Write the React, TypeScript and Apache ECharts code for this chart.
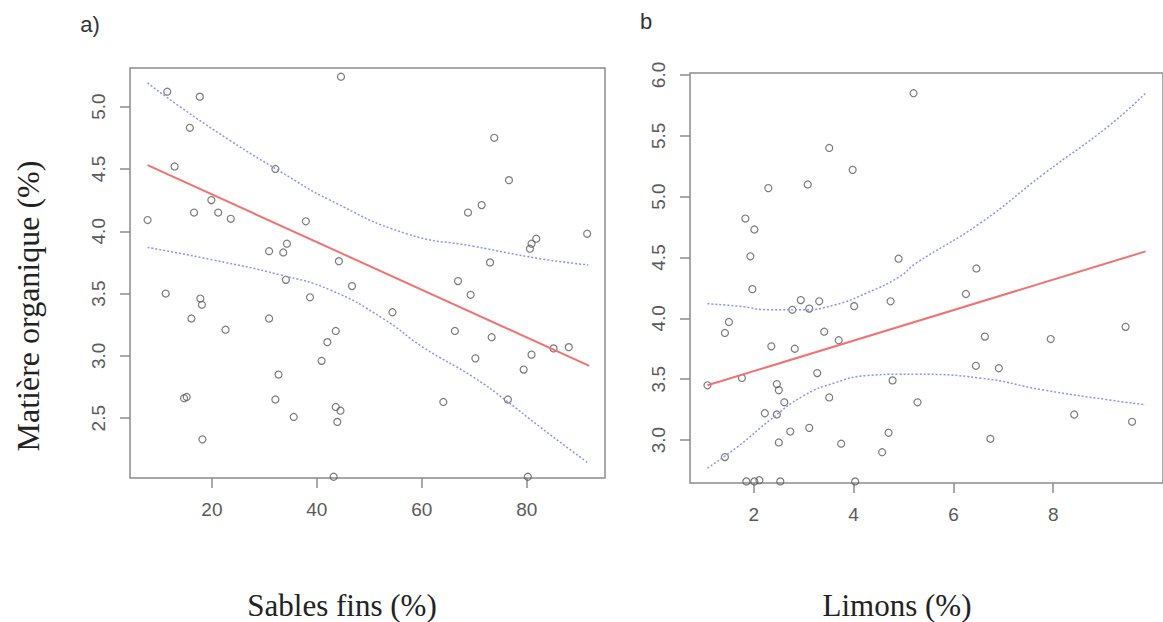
import React, { useEffect, useRef } from "react";
import * as echarts from "echarts";

// Panel a) : Sables fins (%) vs Matière organique (%)
const sablesX = [
  11.5, 17.7, 44.6, 15.8, 12.9, 32.1, 19.9, 16.6, 21.2, 23.6, 7.75, 37.9, 34.3, 30.9, 33.6, 44.2,
  11.2, 17.8, 18.1, 16.1, 22.6, 30.9, 34.1, 38.7, 46.7, 43.6, 42.0, 40.9, 32.7, 14.7, 15.2, 32.1,
  35.6, 43.6, 44.5, 43.9, 18.2, 43.2, 73.8, 76.6, 71.4, 68.8, 91.5, 81.8, 80.9, 80.6, 73.0, 66.9,
  69.3, 54.4, 66.3, 73.3, 85.1, 88.0, 80.9, 70.2, 79.4, 64.1, 76.4, 80.2,
];
const sablesY = [
  5.12, 5.08, 5.24, 4.83, 4.52, 4.5, 4.25, 4.15, 4.15, 4.1, 4.09, 4.08, 3.9, 3.84, 3.83, 3.76,
  3.5, 3.46, 3.41, 3.3, 3.21, 3.3, 3.61, 3.47, 3.56, 3.2, 3.11, 2.96, 2.85, 2.66, 2.67, 2.65,
  2.51, 2.59, 2.56, 2.47, 2.33, 2.03, 4.75, 4.41, 4.21, 4.15, 3.98, 3.94, 3.9, 3.86, 3.75, 3.6,
  3.49, 3.35, 3.2, 3.15, 3.06, 3.07, 3.01, 2.98, 2.89, 2.63, 2.65, 2.03,
];
const sablesFitX = [7.75, 91.9];
const sablesFitY = [4.53, 2.92];
const sablesUpperX = [7.75, 13.9, 23.4, 33.0, 42.5, 57.1, 69.8, 82.5, 91.7];
const sablesUpperY = [5.19, 5.0, 4.73, 4.48, 4.25, 3.98, 3.88, 3.78, 3.73];
const sablesLowerX = [7.75, 20.2, 33.0, 42.5, 52.6, 60.2, 69.8, 76.1, 82.5, 91.7];
const sablesLowerY = [3.87, 3.77, 3.65, 3.53, 3.3, 3.07, 2.83, 2.64, 2.43, 2.14];
const sablesXTicks = [20, 40, 60, 80];
const sablesYTicks = [2.5, 3.0, 3.5, 4.0, 4.5, 5.0];

// Panel b : Limons (%) vs Matière organique (%)
const limonsX = [
  3.51, 3.98, 2.29, 3.08, 1.83, 2.01, 1.93, 4.9, 1.97, 1.42, 1.5, 2.35, 2.77, 2.94, 3.11, 3.31,
  3.41, 2.82, 3.7, 4.01, 4.74, 1.07, 1.76, 2.46, 2.5, 2.61, 2.22, 2.46, 3.27, 3.51, 4.78, 2.73,
  3.11, 2.5, 3.75, 4.7, 4.57, 1.42, 1.85, 2.01, 2.11, 2.53, 4.03, 5.2, 6.46, 6.25, 6.63, 7.95,
  9.45, 6.45, 6.91, 5.28, 8.42, 9.58, 6.74,
];
const limonsY = [
  5.4, 5.22, 5.07, 5.1, 4.82, 4.73, 4.51, 4.49, 4.24, 3.88, 3.97, 3.77, 4.07, 4.15, 4.08, 4.14,
  3.89, 3.75, 3.82, 4.1, 4.14, 3.45, 3.51, 3.46, 3.41, 3.31, 3.22, 3.21, 3.55, 3.35, 3.49, 3.07,
  3.1, 2.98, 2.97, 3.06, 2.9, 2.86, 2.66, 2.66, 2.67, 2.66, 2.66, 5.85, 4.41, 4.2, 3.85, 3.83,
  3.93, 3.61, 3.59, 3.31, 3.21, 3.15, 3.01,
];
const limonsFitX = [1.07, 9.85];
const limonsFitY = [3.45, 4.55];
const limonsUpperX = [1.07, 1.69, 2.34, 2.98, 3.62, 4.27, 4.91, 5.24, 6.53, 7.82, 9.11, 9.85];
const limonsUpperY = [4.12, 4.1, 4.07, 4.07, 4.11, 4.21, 4.34, 4.45, 4.78, 5.19, 5.58, 5.85];
const limonsLowerX = [1.07, 1.69, 2.34, 2.98, 3.62, 4.27, 4.91, 5.24, 6.53, 7.82, 9.11, 9.85];
const limonsLowerY = [2.77, 2.95, 3.17, 3.36, 3.47, 3.53, 3.54, 3.54, 3.51, 3.41, 3.33, 3.29];
const limonsXTicks = [2, 4, 6, 8];
const limonsYTicks = [3.0, 3.5, 4.0, 4.5, 5.0, 5.5, 6.0];

const pairs = (xs: number[], ys: number[]) => xs.map((x, i) => [x, ys[i]]);

const AXIS_GREY = "#8c8c8c";
const LABEL_GREY = "#5a5a5a";
const SANS = "'Liberation Sans', Arial, sans-serif";
const SERIF = "'Liberation Serif', 'Times New Roman', serif";

function xAxisOf(grid: number, min: number, max: number, ticks: number[]) {
  return {
    type: "value",
    gridIndex: grid,
    min,
    max,
    axisLine: { show: false },
    splitLine: { show: false },
    axisTick: {
      show: true,
      inside: false,
      length: 10,
      customValues: ticks,
      lineStyle: { color: AXIS_GREY, width: 1.5 },
    },
    axisLabel: {
      show: true,
      customValues: ticks,
      color: LABEL_GREY,
      fontSize: 19,
      fontFamily: SANS,
      margin: 22,
    },
  };
}

function yAxisOf(grid: number, min: number, max: number, ticks: number[]) {
  return {
    type: "value",
    gridIndex: grid,
    min,
    max,
    axisLine: { show: false },
    splitLine: { show: false },
    axisTick: {
      show: true,
      inside: false,
      length: 10,
      customValues: ticks,
      lineStyle: { color: AXIS_GREY, width: 1.5 },
    },
    axisLabel: {
      show: true,
      customValues: ticks,
      rotate: 90,
      color: LABEL_GREY,
      fontSize: 19,
      fontFamily: SANS,
      margin: 22,
      formatter: (v: number) => v.toFixed(1),
    },
  };
}

function scatterOf(grid: number, xs: number[], ys: number[]) {
  return {
    type: "scatter",
    xAxisIndex: grid,
    yAxisIndex: grid,
    data: pairs(xs, ys),
    symbol: "circle",
    symbolSize: 7,
    itemStyle: { color: "rgba(255,255,255,0)", borderColor: "#5a5a5a", borderWidth: 1.2 },
    z: 2,
  };
}

function fitOf(grid: number, xs: number[], ys: number[]) {
  return {
    type: "line",
    xAxisIndex: grid,
    yAxisIndex: grid,
    data: pairs(xs, ys),
    showSymbol: false,
    lineStyle: { color: "#f07272", width: 2 },
    z: 3,
  };
}

function bandOf(grid: number, xs: number[], ys: number[]) {
  return {
    type: "line",
    xAxisIndex: grid,
    yAxisIndex: grid,
    data: pairs(xs, ys),
    showSymbol: false,
    smooth: true,
    lineStyle: { color: "#9090f2", width: 1.5, type: [2, 2] },
    z: 3,
  };
}

export default function App() {
  const ref = useRef<HTMLDivElement>(null);
  useEffect(() => {
    if (!ref.current) return;
    const chart = echarts.init(ref.current, undefined, { renderer: "svg" });
    chart.setOption({
      animation: false,
      backgroundColor: "#ffffff",
      grid: [
        {
          left: 130,
          top: 68,
          width: 475,
          height: 410,
          show: true,
          borderColor: AXIS_GREY,
          borderWidth: 1.5,
          backgroundColor: "transparent",
        },
        {
          left: 690,
          top: 73,
          width: 490,
          height: 410,
          show: true,
          borderColor: AXIS_GREY,
          borderWidth: 1.5,
          backgroundColor: "transparent",
        },
      ],
      xAxis: [xAxisOf(0, 4.4, 94.9, sablesXTicks), xAxisOf(1, 0.72, 10.2, limonsXTicks)],
      yAxis: [yAxisOf(0, 2.02, 5.31, sablesYTicks), yAxisOf(1, 2.647, 6.016, limonsYTicks)],
      series: [
        scatterOf(0, sablesX, sablesY),
        fitOf(0, sablesFitX, sablesFitY),
        bandOf(0, sablesUpperX, sablesUpperY),
        bandOf(0, sablesLowerX, sablesLowerY),
        scatterOf(1, limonsX, limonsY),
        fitOf(1, limonsFitX, limonsFitY),
        bandOf(1, limonsUpperX, limonsUpperY),
        bandOf(1, limonsLowerX, limonsLowerY),
      ],
      graphic: [
        {
          type: "text",
          x: 90,
          y: 24,
          style: { text: "a)", fontSize: 22, fontFamily: SANS, fill: "#333", align: "center", verticalAlign: "middle" },
        },
        {
          type: "text",
          x: 646,
          y: 21,
          style: { text: "b", fontSize: 22, fontFamily: SANS, fill: "#333", align: "center", verticalAlign: "middle" },
        },
        {
          type: "text",
          x: 28,
          y: 306,
          rotation: Math.PI / 2,
          style: {
            text: "Matière organique (%)",
            fontSize: 32,
            fontFamily: SERIF,
            fill: "#222",
            align: "center",
            verticalAlign: "middle",
          },
        },
        {
          type: "text",
          x: 342,
          y: 605,
          style: { text: "Sables fins (%)", fontSize: 31, fontFamily: SERIF, fill: "#222", align: "center", verticalAlign: "middle" },
        },
        {
          type: "text",
          x: 897,
          y: 605,
          style: { text: "Limons (%)", fontSize: 31, fontFamily: SERIF, fill: "#222", align: "center", verticalAlign: "middle" },
        },
      ],
    });
    return () => chart.dispose();
  }, []);
  return (
    <div
      ref={ref}
      style={{ position: "absolute", left: 0, top: 0, width: 1163, height: 622 }}
    />
  );
}
